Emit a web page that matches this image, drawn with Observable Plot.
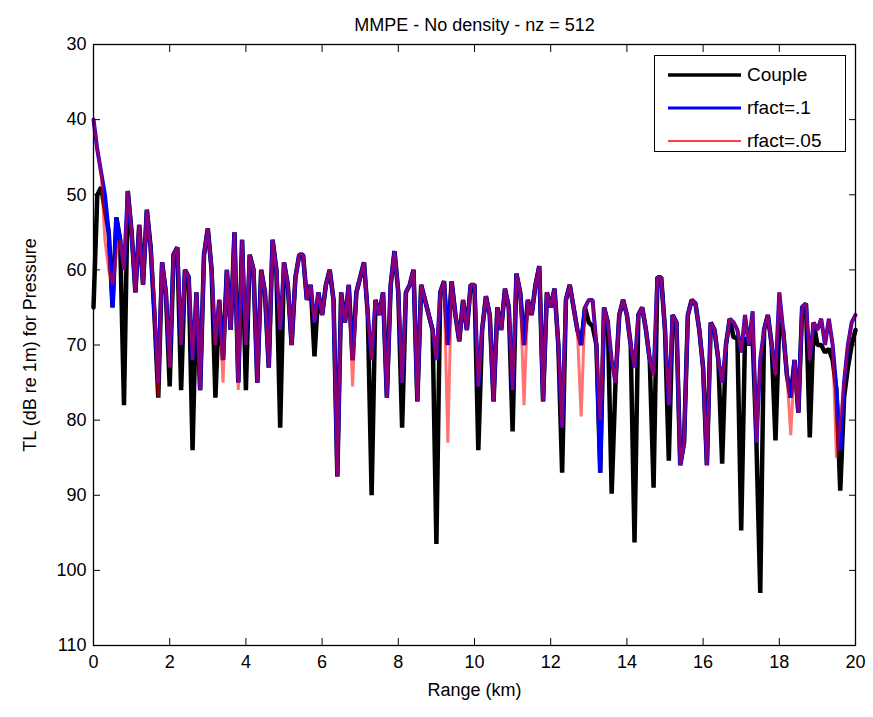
<!DOCTYPE html>
<html>
<head>
<meta charset="utf-8">
<script src="https://cdn.jsdelivr.net/npm/d3@7"></script>
<script src="https://cdn.jsdelivr.net/npm/@observablehq/plot@0.6"></script>
<style>
  html, body { margin: 0; padding: 0; background: #fff; }
  #wrap { position: relative; width: 873px; height: 717px; font-family: "Liberation Sans Narrow", "Arial Narrow", "Liberation Sans", Arial, sans-serif; }
  #legend { position: absolute; left: 654px; top: 55px; width: 192px; height: 97px; border: 1.5px solid #000; background: #fff; box-sizing: border-box; }
</style>
</head>
<body>
<div id="wrap"></div>
<script>
const titleText = "MMPE - No density - nz = 512";
const xLabel = "Range (km)";
const yLabel = "TL (dB re 1m) for Pressure";
const seriesNames = ["Couple", "rfact=.1", "rfact=.05"];
const seriesColors = ["#000000", "#0000ff", "#ff0000"];
const xTicks = [0, 2, 4, 6, 8, 10, 12, 14, 16, 18, 20];
const yTicks = [30, 40, 50, 60, 70, 80, 90, 100, 110];
const rangeStep = 0.1; // km between samples

const couple = [
65,50,49,52,55,65,53,56,78,49.5,55,63,54,62,52,57,66,77,59,63,75.5,
58,57,76,60,61,84,63,76,58,54.5,60,77,64,72,60,68,55,75,56,76,
58,60,75,60,63,73,56,60,81,59,62,70,61,58,58,64,62,71.5,63,66,
62,60,64,87.5,63,67,62,72,63,61,59,66,90,64,66,63,77,62,57.5,63,
81,63,62,60,77.5,62,64,66,68,96.5,63,61.5,70,61.5,66,69.5,64,68,62,62,
84,68,63.5,66,77.5,65,68,62.5,65,81.5,60.5,63,70,64,66,62,59.5,77.5,63,65,
62.5,70,87,64,62,65,68,70,65,67,67.5,70,87,65,67,89.8,75,66,64,66,
70,96.3,66,65,68,72,89,61,61,68,85.4,66,67,86,83,66,64,64.5,68,73,
86,67,68,72,85.8,70,66.5,69,69,94.7,69,70,69,83,103,68,66,70,82.7,67,
68,74,77,72,79,65,64.5,82.3,67,70,70,71,70.5,72,76,89.4,77,73,70,68];

const rfact1 = [
40,44,47,50,55,65,53,56,60,49.5,55,63,54,62,52,57,66,75,59,63,73,
58,57,70,60,61,72,63,76,58,54.5,60,70,64,72,60,68,55,75,56,70,
58,60,75,60,63,73,56,60,68,59,62,70,61,58,58,64,62,67,63,66,
62,60,64,87.5,63,67,62,72,63,61,59,66,72,64,66,63,77,62,57.5,63,
75,63,62,60,77.5,62,64,66,68,72,63,61.5,70,61.5,66,69.5,64,68,62,62,
75.5,68,63.5,66,77.5,65,68,62.5,65,76,60.5,63,70,64,66,62,59.5,77.5,63,65,
62.5,70,81,64,62,65,68,70,65,64,64,70,87,65,67,72,75,66,64,66,
70,73,66,65,68,72,74,61,61,68,78,66,67,86,83,66,64,64.5,68,73,
86,67,68,72,75,70,66.5,67,68,71,66,70,65.5,83,72,68,66,70,74,63,
68,74,77,72,79,65,64.5,72,67,68,66.5,70,66.5,70,76,84,75,70,67,66];

const rfact05 = [
40,44,47,56,60,62,58,56,60,49.5,55,63,54,62,52,57,64,77,59,63,73,
58,57,70,60,61,72,63,76,58,54.5,60,70,64,75,60,68,55,76,56,70,
58,60,75,60,63,73,56,60,68,59,62,70,61,58,58,64,62,67,63,66,
62,60,64,87.5,63,67,62,75.5,63,61,59,66,72,64,66,63,77,62,57.5,63,
75,63,62,60,77.5,62,64,66,68,72,63,61.5,83,61.5,66,69.5,64,68,62,62,
75.5,68,63.5,66,77.5,65,68,62.5,65,76,60.5,63,78,64,66,62,59.5,77.5,63,65,
62.5,70,81,64,62,65,68,79.5,65,64,64,70,80,65,67,72,75,66,64,66,
70,73,66,65,68,72,74,61,61,68,78,66,67,86,83,66,64,64.5,68,73,
86,67,68,72,75,70,66.5,67,68,71,66,70,65.5,83,72,68,66,70,74,63,
68,74,82,72,79,65,64.5,72,67,68,66.5,70,66.5,70,85,80,75,70,67,66];

const toRows = (vals) => vals.map((v, i) => ({r: +(i * rangeStep).toFixed(2), tl: v}));

const fontFamily = "'Liberation Sans Narrow', 'Arial Narrow', 'Liberation Sans', Arial, sans-serif";

const chart = Plot.plot({
  width: 873,
  height: 717,
  marginLeft: 93,
  marginRight: 18,
  marginTop: 44,
  marginBottom: 72,
  style: {fontFamily, fontSize: "18px", background: "#fff", color: "#000"},
  x: {domain: [0, 20]},
  y: {domain: [30, 110], reverse: true},
  marks: [
    Plot.line(toRows(couple), {x: "r", y: "tl", stroke: seriesColors[0], strokeWidth: 4.5, strokeLinejoin: "miter"}),
    Plot.line(toRows(rfact1), {x: "r", y: "tl", stroke: seriesColors[1], strokeWidth: 4, strokeLinejoin: "miter"}),
    Plot.line(toRows(rfact05), {x: "r", y: "tl", stroke: seriesColors[2], strokeWidth: 3, strokeOpacity: 0.55, strokeLinejoin: "miter"}),
    Plot.frame({stroke: "#000", strokeWidth: 1.3}),
    Plot.axisX({anchor: "bottom", ticks: xTicks, tickSize: -7, tickPadding: 17, label: xLabel, labelAnchor: "center", labelOffset: 50, labelArrow: false}),
    Plot.axisX({anchor: "top", ticks: xTicks, tickSize: -7, tickFormat: () => "", label: null}),
    Plot.axisY({anchor: "left", ticks: yTicks, tickSize: -7, tickPadding: 14, label: yLabel, labelAnchor: "center", labelOffset: 70, labelArrow: false}),
    Plot.axisY({anchor: "right", ticks: yTicks, tickSize: -7, tickFormat: () => "", label: null}),
    Plot.text([titleText], {frameAnchor: "top", dy: -26, fontSize: 18})
  ]
});

const wrap = document.getElementById("wrap");
wrap.appendChild(chart);

// legend
const legend = document.createElement("div");
legend.id = "legend";
const ns = "http://www.w3.org/2000/svg";
const lsvg = document.createElementNS(ns, "svg");
lsvg.setAttribute("width", "190");
lsvg.setAttribute("height", "95");
const widths = [3.5, 3, 1.5];
seriesNames.forEach((name, i) => {
  const yy = 19 + i * 33;
  const ln = document.createElementNS(ns, "line");
  ln.setAttribute("x1", 13); ln.setAttribute("x2", 86);
  ln.setAttribute("y1", yy); ln.setAttribute("y2", yy);
  ln.setAttribute("stroke", seriesColors[i]);
  ln.setAttribute("stroke-width", widths[i]);
  lsvg.appendChild(ln);
  const tx = document.createElementNS(ns, "text");
  tx.setAttribute("x", 92); tx.setAttribute("y", yy + 6);
  tx.setAttribute("font-size", "19");
  tx.setAttribute("font-family", fontFamily);
  tx.textContent = name;
  lsvg.appendChild(tx);
});
legend.appendChild(lsvg);
wrap.appendChild(legend);
</script>
</body>
</html>
